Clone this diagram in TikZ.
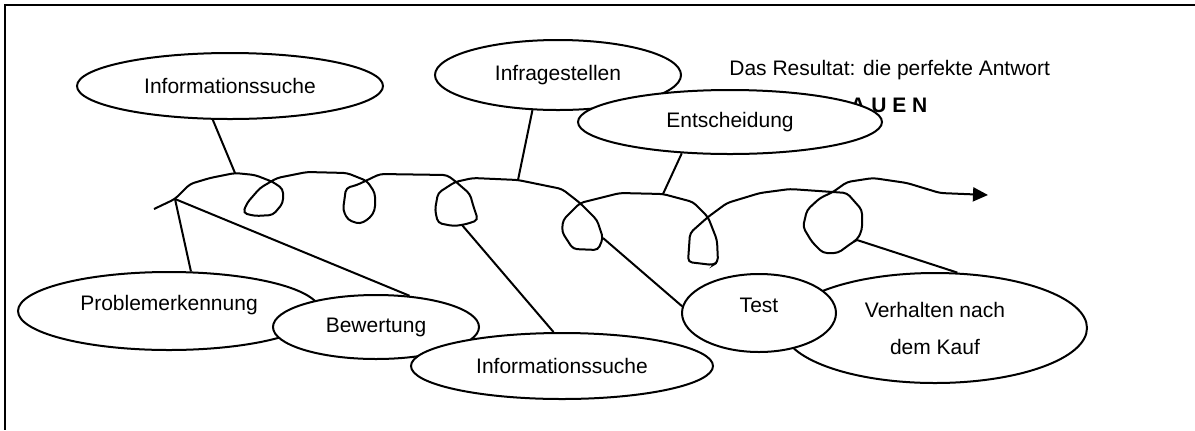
\documentclass[tikz,border=0pt]{standalone}
\usepackage{fontspec}
\setmainfont{Liberation Sans}
\usetikzlibrary{shapes.geometric, arrows.meta}
\tikzstyle{bubble} = [ellipse, draw=black, fill=white, line width=1pt, inner sep=0pt, text centered, font=\fontsize{10.5}{18.5}\selectfont]
\tikzstyle{caption} = [inner sep=0pt, anchor=west, font=\fontsize{10.5}{12.6}\selectfont]
\tikzstyle{line} = [line width=1pt]
\tikzstyle{arrow} = [line width=1pt, rounded corners=2pt, -{Triangle[length=7.5pt, width=7pt]}]
\tikzstyle{frame} = [line width=1.25pt]

\begin{document}
\begin{tikzpicture}[x=0.5pt, y=-0.5pt]
\useasboundingbox (0,0) rectangle (1195,430);
\draw [frame] (1195,5) -- (5,5) -- (5,430);

\node (infoTop) [bubble, minimum width=153pt, minimum height=33pt] at (230,86) {Informationssuche};
\node (infra) [bubble, minimum width=123pt, minimum height=35pt] at (558,75) {Infragestellen};
\node (result) [caption] at (729,70) {Das Resultat: die perfekte Antwort};
\node (trust) [caption, font=\fontsize{10.5}{12.6}\selectfont\bfseries] at (850,105) {A U E N};
\node (entsch) [bubble, minimum width=152pt, minimum height=32pt] at (730,122) {Entscheidung};
\node (probl) [bubble, minimum width=151pt, minimum height=39pt, text height=7.6pt, text depth=8.2pt] at (169,311) {Problemerkennung};
\node (bew) [bubble, minimum width=103pt, minimum height=32pt] at (376,327) {Bewertung};
\node (infoBot) [bubble, minimum width=151pt, minimum height=33pt] at (562,366) {Informationssuche};
\node (verh) [bubble, minimum width=152pt, minimum height=55pt, align=center] at (935,328) {Verhalten nach\\dem Kauf};
\node (test) [bubble, minimum width=77pt, minimum height=39pt, text height=7.6pt, text depth=8pt] at (759,313) {Test};

% the loops
\draw [arrow] (154,209) -- (175,199) coordinate (cBranch) -- (190,184) -- (210,178)
  -- (235,173) coordinate (cInfo) -- (255,175) -- (273,182) -- (283,189) -- (283,203)
  -- (273,215) -- (255,216) -- (243,213) -- (247,203) -- (260,188) -- (277,178)
  -- (307,172) -- (347,173) -- (367,181) -- (375,193) -- (375,210) -- (370,218)
  -- (360,224) -- (348,220) -- (343,210) -- (346,188) -- (357,185) -- (380,174)
  -- (447,175) -- (455,181) -- (470,194) -- (473,205) -- (478,220) -- (470,223)
  -- (462,225) coordinate (cInfoBot) -- (453,226) -- (438,223) -- (435,210) -- (438,193)
  -- (455,182) -- (473,178) -- (518,180) coordinate (cInfra) -- (562,189) -- (580,203)
  -- (597,220) -- (603,238) coordinate (cTest) -- (598,250) -- (573,249) -- (562,232)
  -- (563,220) -- (580,203) -- (620,193) -- (663,194) coordinate (cEntsch) -- (693,202)
  -- (708,217) -- (717,240) -- (718,262) -- (713,265) -- (688,262) -- (690,233)
  -- (708,217) -- (727,203) -- (760,193) -- (790,189) -- (833,192) -- (847,193)
  -- (862,210) -- (862,230) -- (857,240) coordinate (cVerh) -- (853,242) -- (838,253)
  -- (823,253) -- (812,242) -- (803,227) -- (807,210) -- (820,198) -- (833,192)
  -- (847,182) -- (873,178) -- (907,183) -- (940,193) -- (988,195);

\draw [line] (infoTop.-117) -- (cInfo);
\draw [line] (infra.-126) -- (cInfra);
\draw [line] (entsch.-147) -- (cEntsch);
\draw [line] (cBranch) -- (probl.61);
\draw [line] (cBranch) -- (bew.43);
\draw [line] (cInfoBot) -- (infoBot.104);
\draw [line] (cTest) -- (test.175);
\draw [line] (cVerh) -- (verh.68);
\end{tikzpicture}
\end{document}
